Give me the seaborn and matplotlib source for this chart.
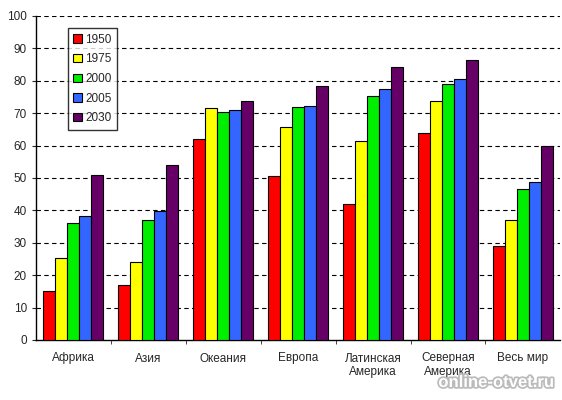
import numpy as np
import pandas as pd
import matplotlib
matplotlib.use("Agg")
import matplotlib.pyplot as plt
import matplotlib.patheffects as pe
import seaborn as sns

regions = ["Африка", "Азия", "Океания", "Европа", "Латинская\nАмерика",
           "Северная\nАмерика", "Весь мир"]
years = ["1950", "1975", "2000", "2005", "2030"]

v1950 = [15, 17, 62, 50.5, 42, 64, 29]
v1975 = [25.3, 24, 71.5, 65.6, 61.4, 73.9, 37.1]
v2000 = [36, 37, 70.5, 71.8, 75.4, 79, 46.6]
v2005 = [38.4, 39.8, 70.9, 72.1, 77.5, 80.7, 48.9]
v2030 = [51, 54, 73.9, 78.4, 84.4, 86.5, 60]

colors = ["#ff0000", "#ffff00", "#00ee00", "#3366ff", "#660066"]

rows = []
for year, vals in zip(years, [v1950, v1975, v2000, v2005, v2030]):
    for reg, v in zip(regions, vals):
        rows.append({"region": reg, "year": year, "value": v})
df = pd.DataFrame(rows)

sns.set_style("white")
plt.rcParams["font.family"] = ["Liberation Sans", "DejaVu Sans"]

fig, ax = plt.subplots(figsize=(5.62, 4.0), dpi=100)
fig.subplots_adjust(left=0.064, right=0.997, bottom=0.15, top=0.96)

sns.barplot(data=df, x="region", y="value", hue="year", palette=colors,
            order=regions, hue_order=years, width=0.8, edgecolor="black",
            linewidth=0.8, errorbar=None, saturation=1, ax=ax, zorder=3)

ax.set_ylim(0, 100)
ax.set_xlim(-0.5, len(regions) - 0.5)
ax.set_yticks(range(0, 101, 10))
for y in range(10, 101, 10):
    ax.axhline(y, color="black", linestyle=(0, (4, 3)), linewidth=0.8, zorder=1)

ax.set_xlabel("")
ax.set_ylabel("")
ax.tick_params(axis="x", length=0, labelsize=8.5, pad=9)
ax.tick_params(axis="y", length=3, labelsize=8.5, left=True, direction="out")
ax.set_xticks(np.arange(0.5, len(regions) - 0.5), minor=True)
ax.tick_params(axis="x", which="minor", length=3, bottom=True, direction="out")

for s in ["top", "right"]:
    ax.spines[s].set_visible(False)
for s in ["left", "bottom"]:
    ax.spines[s].set_color("black")
    ax.spines[s].set_linewidth(1.0)

leg = ax.legend(loc="upper left", bbox_to_anchor=(0.05, 0.98), fontsize=8.5,
                frameon=True, fancybox=False, handlelength=0.7, handleheight=0.7,
                handletextpad=0.3, labelspacing=0.65, borderpad=0.45)
leg.get_frame().set_edgecolor("black")
leg.get_frame().set_linewidth(1.0)

fig.text(0.985, 0.025, "online-otvet.ru", ha="right", va="bottom", fontsize=12,
         fontweight="bold", color="white",
         path_effects=[pe.withStroke(linewidth=2.5, foreground="#bbbbbb")])

fig.savefig("out.png", dpi=100)
